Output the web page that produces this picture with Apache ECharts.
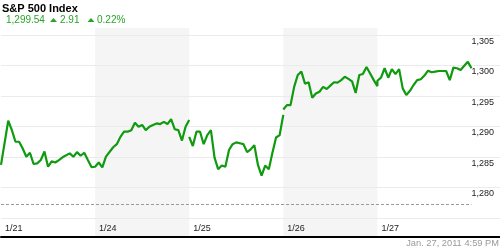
<!DOCTYPE html>
<html>
<head>
<meta charset="utf-8">
<script src="https://cdn.jsdelivr.net/npm/echarts@6/dist/echarts.min.js"></script>
<style>
html,body{margin:0;padding:0;background:#fff;}
#c{width:500px;height:250px;}
</style>
</head>
<body>
<div id="c"></div>
<script>
// ---- data ----
const dayLabels = ['1/21', '1/24', '1/25', '1/26', '1/27'];
const shadedDays = ['1/24', '1/26'];
const breakBefore = ['1/25', '1/26'];

const hours_0121 = [0,0.5,0.75,1,1.25,1.5,1.75,2,2.25,2.5,2.75,3,3.25,3.5,3.75,4,4.25,4.75,5,5.25,5.5,5.75,6,6.25,6.5];
const price_0121 = [1283.7,1290.95,1289.4,1287.5,1287.5,1286.4,1285.05,1285.7,1283.85,1283.95,1284.5,1285.9,1283.4,1284.3,1284.1,1284.5,1284.95,1285.6,1285.05,1285.8,1285.2,1285.7,1284.5,1283.35,1283.4];

const hours_0124 = [0,0.25,0.5,0.75,1.25,1.5,1.75,2,2.25,2.5,2.75,3,3.25,3.5,3.75,4,4.25,4.5,4.75,5,5.25,5.5,5.75,6,6.25,6.5];
const price_0124 = [1283.4,1284.1,1283.3,1285.05,1286.6,1287.1,1288.3,1289.15,1289.15,1289.4,1290.6,1289.95,1290.25,1289.4,1289.95,1290.25,1290.5,1290.4,1290.75,1290.4,1291.2,1289.55,1289.4,1287.7,1289.95,1291.05];

const hours_0125 = [0,0.25,0.5,0.75,1,1.25,1.5,1.75,2,2.25,2.5,2.75,3,3.25,3.5,3.75,4,4.25,4.5,4.75,5,5.25,5.5,5.75,6,6.25,6.5];
const price_0125 = [1288.3,1286.8,1289.15,1289.15,1287.1,1288.6,1289.4,1284.9,1283.0,1283.6,1283.4,1286.15,1287.1,1287.4,1287.25,1287.1,1285.8,1286.25,1286.95,1283.7,1281.95,1283.6,1283.0,1285.7,1288.2,1288.6,1291.9];

const hours_0126 = [0,0.25,0.5,0.75,1,1.25,1.5,1.75,2,2.25,2.5,2.75,3,3.25,3.5,3.75,4,4.25,4.5,4.75,5,5.25,5.5,5.75,6,6.25,6.5];
const price_0126 = [1292.8,1293.5,1293.5,1296.5,1298.45,1299.0,1297.0,1297.25,1294.7,1295.4,1295.7,1296.5,1296.15,1296.7,1297.25,1297.2,1297.6,1298.15,1297.8,1297.4,1295.5,1298.45,1298.6,1299.75,1298.7,1297.6,1296.63];

const hours_0127 = [0,0.25,0.5,0.75,1,1.25,1.5,1.75,2,2.25,2.5,2.75,3,3.25,3.5,3.75,4,4.25,4.75,5,5.25,5.5,5.75,6,6.25,6.5];
const price_0127 = [1297.5,1298.0,1299.55,1298.0,1299.4,1298.6,1299.4,1296.25,1295.15,1295.85,1296.8,1297.6,1297.75,1298.35,1299.15,1298.9,1299.0,1299.1,1299.1,1297.6,1299.65,1299.55,1299.25,1299.95,1300.6,1299.54];

const yTicks = [1280, 1285, 1290, 1295, 1300, 1305];
const refLevel = 1277.3;

const title = 'S&P 500 Index';
const lastPrice = '1,299.54';
const change = '2.91';
const changePct = '0.22%';
const stamp = 'Jan. 27, 2011 4:59 PM';

// ---- build ----
const sessionHours = 6.5;
const dayHours = [hours_0121, hours_0124, hours_0125, hours_0126, hours_0127];
const dayPrices = [price_0121, price_0124, price_0125, price_0126, price_0127];

const lineData = [];
dayLabels.forEach((d, i) => {
  if (breakBefore.indexOf(d) >= 0) lineData.push([i * sessionHours, '-']);
  dayHours[i].forEach((h, j) => lineData.push([i * sessionHours + h, dayPrices[i][j]]));
});

const shadeData = shadedDays.map(d => {
  const i = dayLabels.indexOf(d);
  return [{ xAxis: i * sessionHours }, { xAxis: (i + 1) * sessionHours }];
});

const xMax = 34.47;
const fmt = v => String(v).replace(/\B(?=(\d{3})+(?!\d))/g, ',');
const FONT = '"Liberation Sans", Arial, sans-serif';
const GREEN = '#0f9a0f';
const HEAD_GREEN = '#28a428';

const tri = (x) => ({
  type: 'polygon', x: x, y: 18,
  shape: { points: [[0, 4], [3.5, 0], [7, 4]] },
  style: { fill: HEAD_GREEN }
});

const chart = echarts.init(document.getElementById('c'), null, { renderer: 'canvas' });
chart.setOption({
  animation: false,
  backgroundColor: '#fff',
  textStyle: { fontFamily: FONT },
  grid: [
    { left: 1, right: 0, top: 28, bottom: 13 },
    { left: 1, right: 0, top: 35, bottom: 32 }
  ],
  xAxis: [
    {
      gridIndex: 0, type: 'value', min: 0, max: xMax, interval: sessionHours, z: 5,
      axisLine: { show: true, lineStyle: { color: '#000', width: 2 } },
      axisTick: { show: false },
      splitLine: { show: false },
      axisLabel: {
        inside: true, margin: 4, align: 'left', padding: [0, 0, 0, 4],
        color: '#222', fontSize: 9, fontFamily: FONT,
        showMaxLabel: false,
        formatter: v => { const i = Math.round(v / sessionHours); return dayLabels[i] || ''; }
      }
    },
    { gridIndex: 1, type: 'value', min: 0, max: xMax, show: false }
  ],
  yAxis: [
    { gridIndex: 0, type: 'value', min: 0, max: 1, show: false },
    {
      gridIndex: 1, type: 'value', position: 'right', min: 1275, max: 1305, interval: 5, z: 2,
      axisLine: { show: false }, axisTick: { show: false },
      splitLine: { show: true, lineStyle: { color: '#ebebeb', width: 1 } },
      axisLabel: {
        inside: true, margin: 6, align: 'right', verticalAlign: 'top', padding: [2, 0, 0, 0],
        color: '#222', fontSize: 9, fontFamily: FONT,
        formatter: v => yTicks.indexOf(v) >= 0 ? fmt(v) : ''
      }
    }
  ],
  series: [
    {
      type: 'line', xAxisIndex: 0, yAxisIndex: 0, data: [], z: 1, silent: true,
      markArea: { silent: true, itemStyle: { color: '#f5f5f5' }, data: shadeData }
    },
    {
      type: 'line', xAxisIndex: 1, yAxisIndex: 1, data: lineData, z: 4,
      showSymbol: false, symbol: 'none', connectNulls: false,
      lineStyle: { color: GREEN, width: 2.2 },
      markLine: {
        silent: true, symbol: ['none', 'none'], label: { show: false },
        lineStyle: { color: '#9a9a9a', width: 1, type: [3, 2] },
        data: [[{ coord: [0, refLevel] }, { coord: [dayLabels.length * sessionHours, refLevel] }]]
      }
    }
  ],
  graphic: [
    { type: 'text', x: 2, y: 9, style: { text: title, fill: '#000', font: 'bold 11px ' + FONT, verticalAlign: 'middle' } },
    { type: 'text', x: 6, y: 20.5, style: { text: lastPrice, fill: HEAD_GREEN, font: '10px ' + FONT, verticalAlign: 'middle' } },
    tri(50),
    { type: 'text', x: 60, y: 20.5, style: { text: change, fill: HEAD_GREEN, font: '10px ' + FONT, verticalAlign: 'middle' } },
    tri(87.5),
    { type: 'text', x: 97, y: 20.5, style: { text: changePct, fill: HEAD_GREEN, font: '10px ' + FONT, verticalAlign: 'middle' } },
    { type: 'text', right: 1, top: 239, style: { text: stamp, fill: '#999', font: '9.3px ' + FONT } }
  ]
});
</script>
</body>
</html>
